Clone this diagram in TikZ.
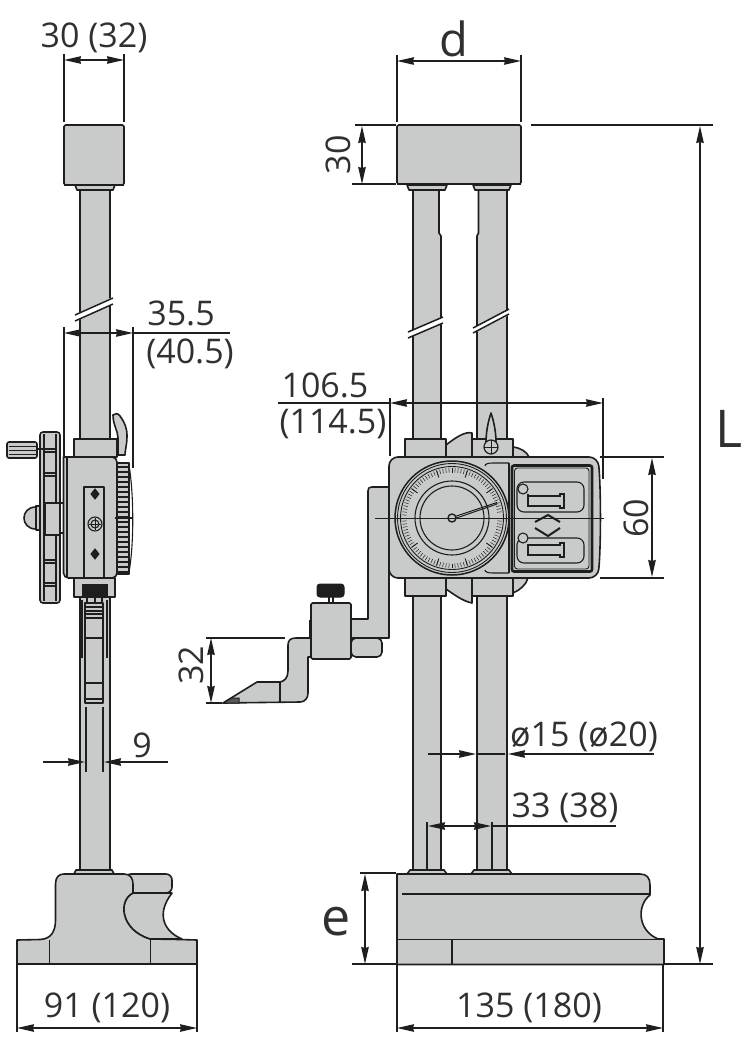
\documentclass[tikz,border=0pt]{standalone}
\usepackage{fontspec}
\setmainfont{Open Sans}
\usetikzlibrary{arrows, arrows.meta}
\definecolor{partgray}{HTML}{C9CBCB}
\definecolor{inkline}{HTML}{1E1E1E}
\definecolor{labink}{HTML}{303030}
\tikzset{
	part/.style={draw=inkline,fill=partgray,line width=1.6pt,line join=round},
	edge/.style={draw=inkline,line width=1.5pt},
	thin edge/.style={draw=inkline,line width=0.9pt},
	solid black/.style={draw=inkline,fill=inkline,line width=1pt},
	extline/.style={draw=inkline,line width=1.2pt},
	dimline/.style={draw=inkline,line width=1.3pt},
	twotips/.style={dimline,{Stealth[length=17pt,width=7.5pt,inset=1pt]}-{Stealth[length=17pt,width=7.5pt,inset=1pt]}},
	onetip/.style={dimline,-{Stealth[length=17pt,width=7.5pt,inset=1pt]}},
	lab/.style={text=labink,inner sep=0pt,font=\fontsize{34}{38}\selectfont},
	biglab/.style={text=labink,inner sep=0pt,font=\fontsize{52}{56}\selectfont}
}

\begin{document}
\begin{tikzpicture}[x=1pt,y=-1pt]
	\useasboundingbox (0,0) rectangle (750,1042);

	%side view - rod and top block
	\path[part] (80,188) rectangle (110,872);
	\path[part] (75,185) -- (115,185) -- (113,190) -- (77,190) -- cycle;
	\path[part,rounded corners=1.5pt] (64,125) rectangle (124,185);
	\draw[edge,line width=2.4pt] (64,185) -- (124,185);
	\fill[white] (76,314) -- (113,297) -- (113,304) -- (76,321) -- cycle;
	\draw[edge] (75,315) -- (113,298);
	\draw[edge] (75,321) -- (113,304);

	%side view - slider under the body
	\path[part] (85,603) rectangle (103,703);
	\draw[edge,line width=2.2pt] (82,600) -- (82,658);
	\draw[edge] (107,600) -- (107,658);
	\foreach \yy in {607,611,614,618,638,683,699} {
		\draw[edge] (85,\yy) -- (103,\yy);
	}
	\draw[edge,line width=2.4pt] (85,703) -- (103,703);

	%side view - clamp, collars, body
	\path[part] (113,415) .. controls (115,413) and (118,413) .. (120,416) .. controls (125,423) and (127,428) .. (127,436) .. controls (127,445) and (125,450) .. (125,455) -- (118,455) -- (118,438) .. controls (118,431) and (113,425) .. (113,415) -- cycle;
	\path[part] (74,439) rectangle (117,457);
	\path[part] (74,578) rectangle (115,597);
	\path[solid black] (82,584) rectangle (107,597);
	\foreach \xx in {87,95,102} {
		\draw[edge] (\xx,597) -- (\xx,603);
	}
	\path[part,rounded corners=5pt] (63.5,457) -- (117,457) -- (117,578) -- (63.5,578) [sharp corners] -- cycle;
	\draw[edge] (67,457) -- (67,578);
	\path[part] (84,487) -- (104,487) -- (104,578) -- (84,578) -- cycle;
	\draw[solid black] (91,494) -- (95,489) -- (99,494) -- (95,499) -- cycle;
	\draw[solid black] (91,554) -- (95,549) -- (99,554) -- (95,559) -- cycle;
	\draw[edge,line width=1.1pt] (95,524) circle (7pt);
	\draw[edge,line width=1.1pt] (95,524) circle (4pt);
	\draw[edge,line width=1pt] (89,524) -- (101,524) (95,518) -- (95,530);

	%side view - knurled dial
	\draw[edge,line width=1.1pt] (129,465) .. controls (134,495) and (134,545) .. (129,572);
	\path[part] (117,463) rectangle (129,574);
	\foreach \yy in {467,472,...,572} {
		\draw[edge,line width=1.1pt] (118,\yy) -- (129,\yy);
	}
	\draw[edge] (115,518) -- (133,518);

	%side view - hand wheel
	\path[part,rounded corners=3pt] (40,432) rectangle (60,603);
	\draw[edge] (44,434) -- (44,601);
	\draw[edge] (56,434) -- (56,601);
	\foreach \yy in {449,452,473,476,560,563,583,586} {
		\draw[edge] (44,\yy) -- (56,\yy);
	}
	\path[part] (45,503) rectangle (60,535);
	\draw[edge] (60,503) -- (63,503);
	\draw[edge] (60,533) -- (63,533);
	\path[part,rounded corners=2pt] (7,442) rectangle (37,458);
	\foreach \yy in {446,450,454} {
		\draw[thin edge] (9,\yy) -- (36,\yy);
	}
	\draw[edge] (37,449) -- (56,449);
	\path[part] (36,507) .. controls (20,507) and (20,529) .. (36,529) -- cycle;
	\path[part] (36,506) rectangle (40,530);

	%side view - base
	\path[part,rounded corners=6pt] (125,874) -- (172,874) -- (172,893) -- (125,893) -- cycle;
	\path[part] (133,893) .. controls (118,900) and (120,930) .. (150,939) -- (182,939) .. controls (165,932) and (155,915) .. (172,893) -- cycle;
	\path[part] (17,940) -- (40,939.5) .. controls (52,939) and (55.5,930) .. (55.5,920) -- (55.5,884) .. controls (55.5,877) and (59,874) .. (64,874) -- (124,874) .. controls (130,874) and (133,878) .. (133,884) -- (133,893) .. controls (118,900) and (120,930) .. (150,939) -- (180,939.5) -- (197,940) -- (197,964) -- (17,964) -- cycle;
	\draw[edge] (49.5,940) -- (49.5,964);
	\draw[edge] (150.5,939) -- (150.5,964);
	\path[part] (76,870) -- (112,870) -- (114,874) -- (74,874) -- cycle;

	%front view - rods
	\path[part] (413,188) -- (439,188) -- (439,233) -- (441,236) -- (441,872) -- (413,872) -- cycle;
	\path[part] (478.5,188) -- (507,188) -- (507,872) -- (477,872) -- (477,236) -- (478.5,233) -- cycle;
	\fill[white] (409,332) -- (443,317) -- (443,323) -- (409,338) -- cycle;
	\draw[edge] (408,332) -- (443,317);
	\draw[edge] (408,338) -- (443,323);
	\fill[white] (474,328) -- (509,310) -- (509,315) -- (474,333) -- cycle;
	\draw[edge] (473,328) -- (509,309);
	\draw[edge] (473,333) -- (509,314);

	%front view - top block
	\path[part] (407,185) -- (447,185) -- (445,190) -- (409,190) -- cycle;
	\path[part] (473,185) -- (511,185) -- (509,190) -- (475,190) -- cycle;
	\path[part,rounded corners=1.5pt] (397,125) rectangle (521,184);
	\draw[edge,line width=2.4pt] (397,184) -- (521,184);

	%front view - lower scriber and bracket
	\path[part,rounded corners=5pt] (351,638) -- (382,638) -- (382,657) -- (351,657) -- cycle;
	\path[part] (351,619) -- (368,619) -- (368,491) .. controls (368,488) and (369,487) .. (372,487) -- (389,487) -- (389,638) -- (351,638) -- cycle;
	\path[part] (311,638) -- (296,638) .. controls (291,638) and (288,640) .. (288,645) -- (288,671) .. controls (288,678) and (284,682) .. (279,682) -- (257,682) -- (223,703) -- (300,702) .. controls (305,702) and (308,698) .. (308,693) -- (308,657) -- (311,657) -- cycle;
	\draw[edge] (280,682) -- (280,702);
	\path[draw=inkline,fill=gray!70!black,line width=1pt] (223,703) -- (232,698) -- (239,698) -- (239,703) -- cycle;
	\draw[edge] (329,597) -- (329,603);
	\draw[edge] (333,597) -- (333,603);
	\path[part,rounded corners=1.5pt] (311,603) rectangle (351,659);
	\draw[edge,line width=2.4pt] (310,620) -- (310,638);
	\path[solid black,rounded corners=3pt] (317,584) rectangle (344,597);

	%front view - small parts behind the body
	\path[part] (446,445) .. controls (455,438) and (465,431) .. (472,433) -- (472,457) -- (446,457) -- cycle;
	\path[part] (513,447) .. controls (521,448) and (527,452) .. (529,457) -- (513,457) -- cycle;
	\path[part] (446,578) -- (472,578) -- (472,603) .. controls (462,601) and (452,593) .. (446,589) -- cycle;
	\path[part] (513,578) -- (528,578) .. controls (526,585) and (520,590) .. (513,593) -- cycle;
	\path[part] (405,439) rectangle (446,457);
	\path[part] (472,439) rectangle (513,457);
	\path[part] (405,578) rectangle (446,596);
	\path[part] (472,578) rectangle (513,596);
	\path[part] (491,413) .. controls (494,422) and (496,432) .. (496,443) -- (486,443) .. controls (486,432) and (488,422) .. (491,413) -- cycle;
	\path[part,line width=1.2pt] (491,447) circle (7pt);
	\draw[thin edge] (484,447) -- (498,447) (491,440) -- (491,454);

	%front view - body
	\path[part,rounded corners=9pt] (389,457) -- (598,457) .. controls (601,490) and (601,545) .. (598,578) -- (389,578) -- cycle;
	\draw[edge,line width=1.1pt] (509,463) -- (493,463) .. controls (488,463) and (485,464) .. (485,466);
	\draw[edge,line width=1.1pt] (509,573) -- (493,573) .. controls (488,573) and (485,572) .. (485,570);
	\draw[edge] (509,463) -- (509,573);
	\path[part,line width=2.6pt,rounded corners=2pt] (512,465.5) rectangle (592,571.5);
	\draw[thin edge,rounded corners=3pt] (514.5,468) rectangle (589,569);

	%front view - dial
	\draw[edge,fill=partgray] (452,518) circle (57pt);
	\draw[thin edge] (452,518) circle (54.5pt);
	\draw[thin edge] (452,518) circle (51.5pt);
	\foreach \ang in {0,3.6,...,356} {
		\draw[draw=inkline,line width=0.5pt,shift={(452,518)}] (\ang:45.5) -- (\ang:50);
	}
	\foreach \ang in {0,36,...,324} {
		\draw[draw=inkline,line width=0.9pt,shift={(452,518)}] (\ang:42.5) -- (\ang:50);
	}
	\draw[edge,line width=1.1pt] (452,518) circle (37pt);
	\draw[edge,line width=1.1pt] (452,518) circle (32pt);
	\draw[edge,line width=1pt] (455,516.5) -- (497,502.5);
	\draw[edge,line width=1pt] (455,518.5) -- (497,504);
	\path[part,line width=1.4pt] (452,518) circle (4pt);

	%front view - panel slots
	\draw[edge,line width=1.1pt,rounded corners=7pt] (517,482) rectangle (584,512);
	\draw[edge,line width=1.1pt,rounded corners=7pt] (517,538) rectangle (584,563);
	\path[part,line width=1.1pt] (523,489) circle (5pt);
	\path[part,line width=1.1pt] (523,538) circle (5pt);
	\draw[edge,line width=1.2pt] (528,494) -- (528,506) -- (560,506) -- (560,508) -- (564,508) -- (564,494) -- (560,494) -- (560,496) -- (528,496);
	\draw[edge,line width=1.2pt] (528,545) -- (528,555) -- (560,555) -- (560,557) -- (564,557) -- (564,543) -- (560,543) -- (560,545) -- cycle;
	\draw[edge,line width=2pt] (535,522) -- (548,515) -- (560,522);
	\draw[edge,line width=2pt] (535,528) -- (548,536) -- (560,528);
	\draw[thin edge] (375,518) -- (604,518);

	%front view - base
	\path[part] (397,874) -- (640,874) .. controls (647,874) and (650,878) .. (650,885) -- (650,895) .. controls (637,905) and (637,930) .. (658,939) -- (664,939) -- (664,964.5) -- (397,964.5) -- cycle;
	\draw[edge] (402,894) -- (650,894);
	\draw[edge] (397,939.5) -- (664,939.5);
	\draw[edge] (452,939.5) -- (452,964.5);
	\path[part] (410,870) -- (444,870) -- (447,874) -- (407,874) -- cycle;
	\path[part] (474,870) -- (509,870) -- (512,874) -- (471,874) -- cycle;

	%named ends of the dimension lines
	\coordinate (wtopL) at (64,60);
	\coordinate (wtopR) at (124,60);
	\coordinate (dialL) at (64,333);
	\coordinate (dialR) at (133,333);
	\coordinate (dialEnd) at (230,333);
	\coordinate (nineL) at (43,762);
	\coordinate (nineLtip) at (85,762);
	\coordinate (nineR) at (168,762);
	\coordinate (nineRtip) at (104,762);
	\coordinate (baseSL) at (17,1028);
	\coordinate (baseSR) at (197,1028);
	\coordinate (dL) at (397,61);
	\coordinate (dR) at (521,61);
	\coordinate (blockT) at (362,126);
	\coordinate (blockB) at (362,184);
	\coordinate (wideEnd) at (278,403);
	\coordinate (wideL) at (390,403);
	\coordinate (wideR) at (603,403);
	\coordinate (bodyT) at (652,458);
	\coordinate (bodyB) at (652,577);
	\coordinate (scrT) at (211,638);
	\coordinate (scrB) at (211,703);
	\coordinate (dia0) at (428,754);
	\coordinate (dia1) at (476,754);
	\coordinate (dia2) at (508,754);
	\coordinate (dia3) at (654,754);
	\coordinate (dia4) at (505,754);
	\coordinate (pitchL) at (428,826);
	\coordinate (pitchR) at (491,826);
	\coordinate (pitchEnd) at (616,826);
	\coordinate (eT) at (365,874);
	\coordinate (eB) at (365,964);
	\coordinate (baseFL) at (397,1028);
	\coordinate (baseFR) at (663,1028);
	\coordinate (heightT) at (700,126);
	\coordinate (heightB) at (700,964);

	%extension lines
	\draw[extline] (64,54) -- (64,122);
	\draw[extline] (124,54) -- (124,122);
	\draw[extline] (64,327) -- (64,457);
	\draw[extline] (133,327) -- (133,468);
	\draw[extline] (86,707) -- (86,772);
	\draw[extline] (103,707) -- (103,772);
	\draw[extline] (17,964) -- (17,1032);
	\draw[extline] (197,964) -- (197,1032);
	\draw[extline] (397,55) -- (397,122);
	\draw[extline] (521,55) -- (521,122);
	\draw[extline] (355,125) -- (396,125);
	\draw[extline] (352,184) -- (396,184);
	\draw[extline] (531,125) -- (713,125);
	\draw[extline] (390,398) -- (390,456);
	\draw[extline] (603,398) -- (603,479);
	\draw[extline] (600,457) -- (664,457);
	\draw[extline] (600,578) -- (664,578);
	\draw[extline] (206,638) -- (285,638);
	\draw[extline] (206,703) -- (222,703);
	\draw[extline] (427,822) -- (427,870);
	\draw[extline] (492,822) -- (492,870);
	\draw[extline] (360,873) -- (396,873);
	\draw[extline] (352,964) -- (396,964);
	\draw[extline] (664,964) -- (713,964);
	\draw[extline] (397,964) -- (397,1032);
	\draw[extline] (663,964) -- (663,1032);

	%dimension lines
	\draw[twotips] (wtopL) -- (wtopR);
	\draw[twotips] (dialL) -- (dialR);
	\draw[dimline] (dialR) -- (dialEnd);
	\draw[onetip] (nineL) -- (nineLtip);
	\draw[onetip] (nineR) -- (nineRtip);
	\draw[twotips] (baseSL) -- (baseSR);
	\draw[twotips] (dL) -- (dR);
	\draw[twotips] (blockT) -- (blockB);
	\draw[twotips] (wideL) -- (wideR);
	\draw[dimline] (wideEnd) -- (wideL);
	\draw[twotips] (bodyT) -- (bodyB);
	\draw[twotips] (scrT) -- (scrB);
	\draw[onetip] (dia0) -- (dia1);
	\draw[dimline] (dia1) -- (dia4);
	\draw[onetip] (dia3) -- (dia2);
	\draw[twotips] (pitchL) -- (pitchR);
	\draw[dimline] (pitchR) -- (pitchEnd);
	\draw[twotips] (eT) -- (eB);
	\draw[twotips] (baseFL) -- (baseFR);
	\draw[twotips] (heightT) -- (heightB);

	%labels
	\node[lab] (topwidth) at (94,38) {30 (32)};
	\node[lab] (dialout) at (181,313) {35.5};
	\node[lab] (dialoutb) at (190,354) {(40.5)};
	\node[lab] (ninewidth) at (142,745) {9};
	\node[lab] (basedepth) at (107,1008) {91 (120)};
	\node[biglab,font=\fontsize{47}{50}\selectfont] (dlab) at (453.5,38.5) {d};
	\node[lab,rotate=90] (blockh) at (338,155) {30};
	\node[lab] (wide) at (325,385) {106.5};
	\node[lab] (wideb) at (333,424) {(114.5)};
	\node[lab,rotate=90] (bodyh) at (636,518) {60};
	\node[lab,rotate=90] (scrh) at (191,665) {32};
	\node[lab] (rodwidth) at (584,737) {ø15 (ø20)};
	\node[lab] (rodpitch) at (565,808) {33 (38)};
	\node[biglab] (elab) at (336.5,922) {e};
	\node[lab] (basewidth) at (529,1008) {135 (180)};
	\node[biglab] (Llab) at (729,429) {L};
\end{tikzpicture}
\end{document}
